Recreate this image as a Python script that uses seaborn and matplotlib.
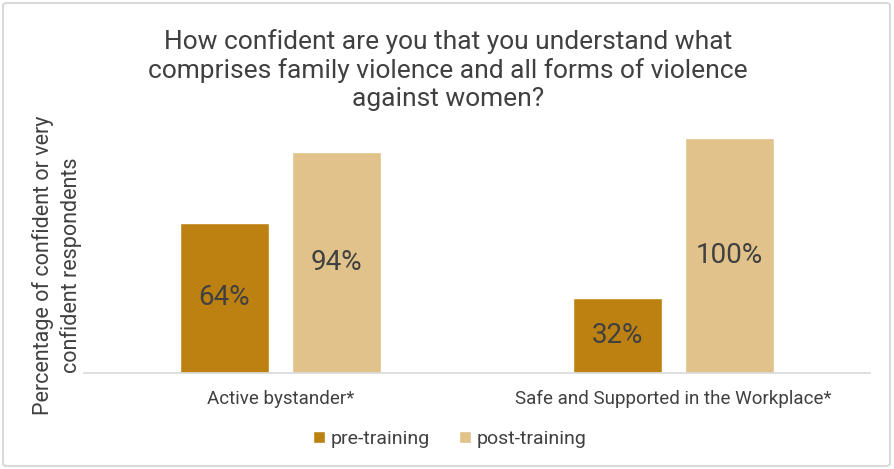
import matplotlib
matplotlib.use("Agg")
import matplotlib.pyplot as plt
import seaborn as sns
import pandas as pd
from matplotlib.patches import FancyBboxPatch

categories = ["Active bystander*", "Safe and Supported in the Workplace*"]
series = ["pre-training", "post-training"]
pre_values = [64, 32]
post_values = [94, 100]
colors = ["#BD8112", "#E0C28A"]

df = pd.DataFrame({
    "category": categories * 2,
    "series": [series[0]] * 2 + [series[1]] * 2,
    "value": pre_values + post_values,
})

sns.set_theme(style="white")
plt.rcParams["font.family"] = ["Roboto", "DejaVu Sans"]
text_color = "#404040"

W, H = 894, 469
def fx(px):
    return px / W
def fy(py):
    return 1 - py / H

fig = plt.figure(figsize=(8.94, 4.69), dpi=100)
ax = fig.add_axes([fx(84), fy(373), (870 - 84) / W, (373 - 120) / H])

sns.barplot(data=df, x="category", y="value", hue="series", palette=colors,
            width=0.57, gap=0.214, saturation=1, ax=ax, legend=True)

ax.set_xlim(-0.5, 1.5)
ax.set_ylim(0, 107.7)
ax.set_yticks([])
ax.set_xlabel("")
ax.set_ylabel("")
for s in ["top", "right", "left"]:
    ax.spines[s].set_visible(False)
ax.spines["bottom"].set_color("#d9d9d9")
ax.spines["bottom"].set_linewidth(1.2)
ax.tick_params(axis="x", length=0, labelsize=13.5, labelcolor=text_color, pad=12)

for cont in ax.containers:
    for bar in cont:
        h = bar.get_height()
        ax.text(bar.get_x() + bar.get_width() / 2, h / 2, f"{h:.0f}%",
                ha="center", va="center", fontsize=20, color=text_color)

leg = ax.legend(loc="center", bbox_to_anchor=(fx(450), fy(439)),
                bbox_transform=fig.transFigure, ncol=2, frameon=False,
                fontsize=14, handlelength=0.6, handleheight=0.6,
                handletextpad=0.3, columnspacing=1.5)
for t in leg.get_texts():
    t.set_color(text_color)

fig.text(fx(448), fy(70),
         "How confident are you that you understand what\ncomprises family violence and all forms of violence\nagainst women?",
         ha="center", va="center", fontsize=19, color=text_color,
         linespacing=1.2)

fig.text(fx(57), fy(265), "Percentage of confident or very\nconfident respondents",
         ha="center", va="center", rotation=90, fontsize=15.5, color=text_color,
         linespacing=1.3)

fig.patches.append(FancyBboxPatch((fx(3), 3 / H), 887 / W, 463 / H,
                                  boxstyle="round,pad=0,rounding_size=0.005",
                                  transform=fig.transFigure, fill=False,
                                  edgecolor="#d9d9d9", linewidth=1.5))

fig.savefig("out.png", dpi=100)
